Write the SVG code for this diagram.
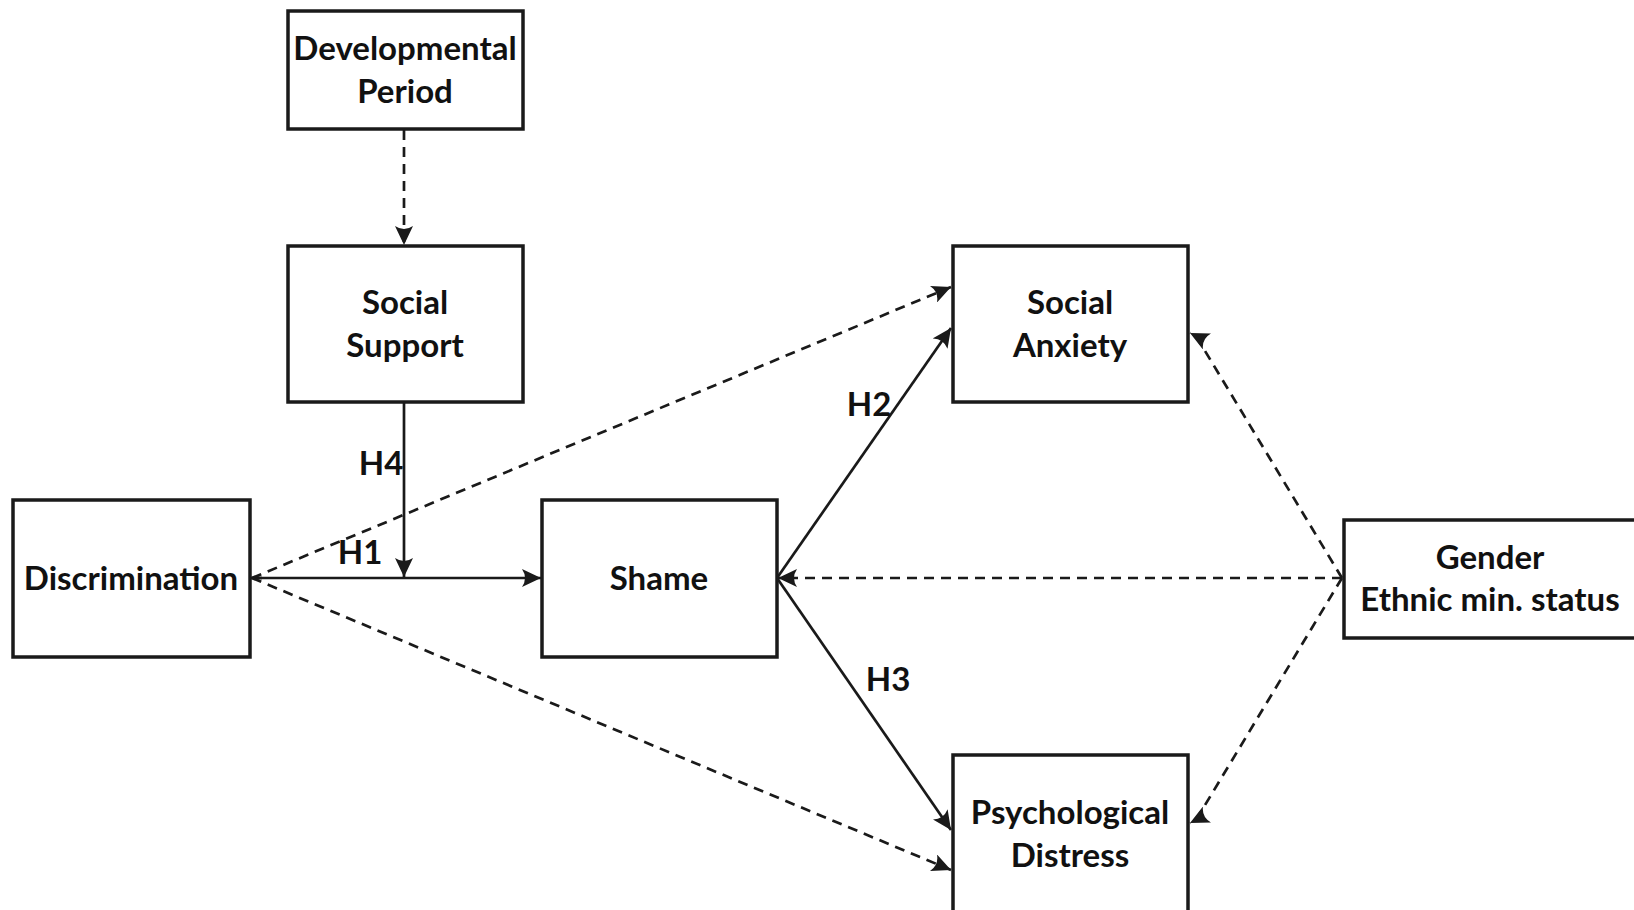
<svg xmlns="http://www.w3.org/2000/svg" width="1634" height="910" viewBox="0 0 1634 910">
<style>
.box{fill:#fff;stroke:#1a1a1a;stroke-width:3.5}
.t{font-family:Lato,"Open Sans",sans-serif;font-weight:bold;font-size:33px;fill:#111;text-anchor:middle;dominant-baseline:central}
.s{fill:none;stroke:#1a1a1a;stroke-width:2.7}
.d{fill:none;stroke:#1a1a1a;stroke-width:2.7;stroke-dasharray:10 7}
</style>
<defs>
<marker id="ah" markerUnits="userSpaceOnUse" markerWidth="20" markerHeight="18" viewBox="0 0 20 18" refX="19" refY="9" orient="auto">
<path d="M0,0 L19,9 L0,18 Q6,9 0,0 Z" fill="#1a1a1a"/>
</marker>
<marker id="sm" markerUnits="userSpaceOnUse" markerWidth="10" markerHeight="10" viewBox="0 0 10 10" refX="9" refY="5" orient="auto">
<path d="M0,1 L9,5 L0,9 L3,5 Z" fill="#1a1a1a"/>
</marker>
</defs>
<rect width="1634" height="910" fill="#fff"/>
<g id="connectors">
<line class="d" x1="404" y1="130" x2="404" y2="245" marker-end="url(#ah)"/>
<line class="s" x1="404" y1="402" x2="404" y2="577" marker-end="url(#ah)"/>
<line class="s" x1="256" y1="578" x2="541" y2="578" marker-end="url(#ah)"/>
<line class="s" x1="262" y1="578" x2="251" y2="578" marker-end="url(#sm)"/>
<line class="d" x1="252" y1="578" x2="951" y2="287" marker-end="url(#ah)"/>
<line class="d" x1="252" y1="578" x2="951" y2="870" marker-end="url(#ah)"/>
<line class="s" x1="777" y1="578" x2="951" y2="328" marker-end="url(#ah)"/>
<line class="s" x1="777" y1="578" x2="951" y2="830" marker-end="url(#ah)"/>
<line class="d" x1="1342" y1="578" x2="778" y2="578" marker-end="url(#ah)"/>
<path class="d" d="M1342,578 L1196,336 L1190,333" marker-end="url(#ah)"/>
<path class="d" d="M1342,578 L1196,820 L1190,823" marker-end="url(#ah)"/>
</g>
<g id="labels">
<text class="t" x="381" y="462">H4</text>
<text class="t" x="360" y="551">H1</text>
<text class="t" x="869" y="403">H2</text>
<text class="t" x="888" y="678">H3</text>
</g>
<g id="developmental-period">
<rect class="box" x="288" y="11" width="235" height="118"/>
<text class="t" x="405" y="47">Developmental</text>
<text class="t" x="405" y="90">Period</text>
</g>
<g id="social-support">
<rect class="box" x="288" y="246" width="235" height="156"/>
<text class="t" x="405" y="301">Social</text>
<text class="t" x="405" y="344">Support</text>
</g>
<g id="discrimination">
<rect class="box" x="13" y="500" width="237" height="157"/>
<text class="t" x="131" y="577">Discrimination</text>
</g>
<g id="shame">
<rect class="box" x="542" y="500" width="235" height="157"/>
<text class="t" x="659" y="577">Shame</text>
</g>
<g id="social-anxiety">
<rect class="box" x="953" y="246" width="235" height="156"/>
<text class="t" x="1070" y="301">Social</text>
<text class="t" x="1070" y="344">Anxiety</text>
</g>
<g id="psychological-distress">
<rect class="box" x="953" y="755" width="235" height="170"/>
<text class="t" x="1070" y="811">Psychological</text>
<text class="t" x="1070" y="854">Distress</text>
</g>
<g id="gender">
<rect class="box" x="1344" y="520" width="300" height="118"/>
<text class="t" x="1490" y="556">Gender</text>
<text class="t" x="1490" y="598">Ethnic min. status</text>
</g>
</svg>
